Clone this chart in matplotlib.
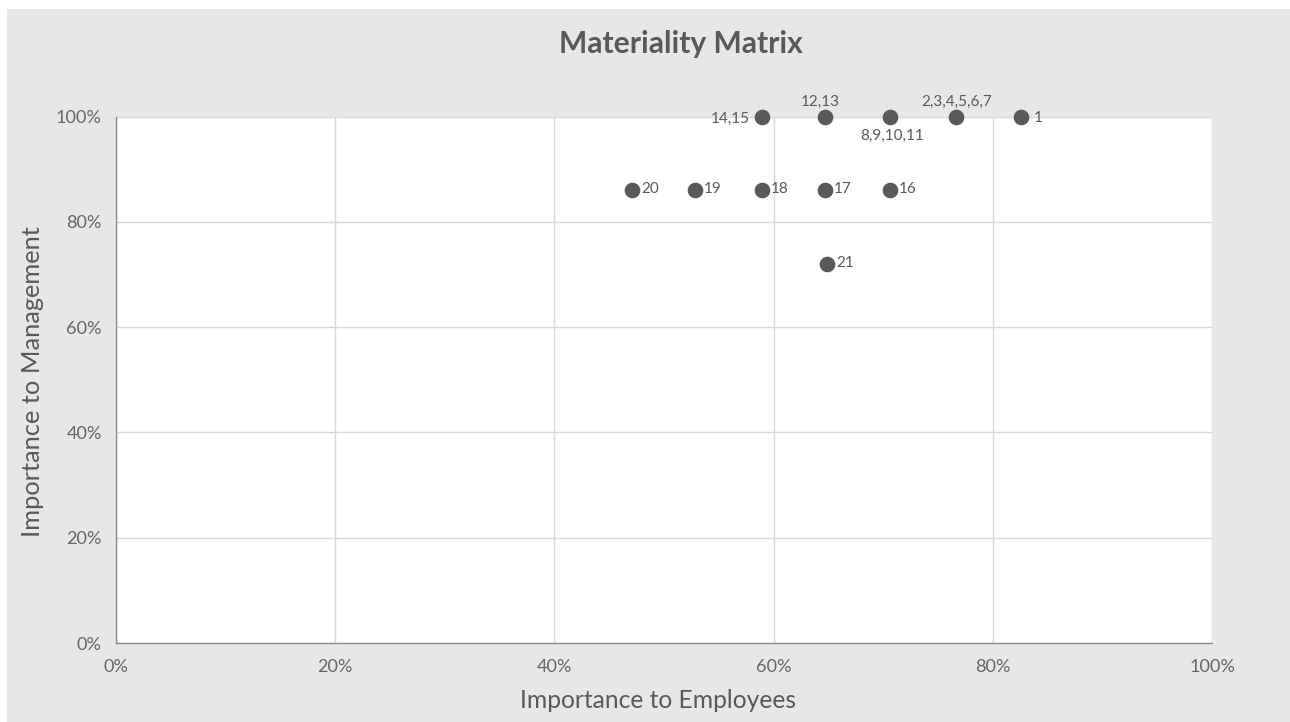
import matplotlib
matplotlib.use("Agg")
import matplotlib.pyplot as plt
from matplotlib.patches import Rectangle
from matplotlib.ticker import PercentFormatter

# Materiality matrix data (share of respondents rating the topic important)
employees = [0.826, 0.766, 0.706, 0.647, 0.589, 0.706, 0.647, 0.589, 0.528, 0.471, 0.649]
management = [1.00, 1.00, 1.00, 1.00, 1.00, 0.86, 0.86, 0.86, 0.86, 0.86, 0.72]
labels = ["1", "2,3,4,5,6,7", "8,9,10,11", "12,13", "14,15",
          "16", "17", "18", "19", "20", "21"]

# label placement (points offset, horizontal alignment), all baseline-anchored
label_offsets = [(8.6, -4.1, "left"), (0.4, 7.9, "center"), (1.8, -16.6, "center"),
                 (-3.2, 7.9, "center"), (-8.6, -4.5, "right"),
                 (6.5, -2.0, "left"), (6.5, -2.0, "left"), (6.5, -2.0, "left"),
                 (6.5, -2.0, "left"), (6.5, -2.0, "left"), (6.5, -2.0, "left")]

plt.rcParams["font.family"] = ["Lato", "DejaVu Sans"]
grey_bg = "#e6e7e9"
dark = "#595959"
W, H = 1290, 722

fig = plt.figure(figsize=(W / 100, H / 100), dpi=100, facecolor="white")
fig.patches.append(Rectangle((7 / W, 0), 1, 1 - 9 / H, transform=fig.transFigure,
                             facecolor=grey_bg, edgecolor="none", zorder=-10))

ax_l, ax_r, ax_t, ax_b = 115.7, 1212.3, 116.7, 643
ax = fig.add_axes([ax_l / W, 1 - ax_b / H, (ax_r - ax_l) / W, (ax_b - ax_t) / H])
ax.set_facecolor("white")
renderer = fig.canvas.get_renderer()


def fit(txt, px, vertical=False):
    # scale the font so the text runs px pixels long
    bb = txt.get_window_extent(renderer)
    size = bb.height if vertical else bb.width
    txt.set_fontsize(txt.get_fontsize() * px / size)


ax.scatter(employees, management, s=105, color=dark, zorder=5, clip_on=False)

probe = fig.text(0, 0, "8,9,10,11", fontsize=12)
fit(probe, 63)
lab_size = probe.get_fontsize()
probe.remove()
for x, y, lab, (dx, dy, ha) in zip(employees, management, labels, label_offsets):
    ax.annotate(lab, (x, y), xytext=(dx, dy), textcoords="offset points",
                ha=ha, va="baseline", fontsize=lab_size, color=dark, zorder=6)

ax.set_xlim(0, 1)
ax.set_ylim(0, 1)
ax.set_xticks([0, 0.2, 0.4, 0.6, 0.8, 1.0])
ax.set_yticks([0, 0.2, 0.4, 0.6, 0.8, 1.0])
ax.xaxis.set_major_formatter(PercentFormatter(1.0, decimals=0))
ax.yaxis.set_major_formatter(PercentFormatter(1.0, decimals=0))
ax.grid(True, color="#d9d9d9", linewidth=1)
ax.set_axisbelow(True)

probe = fig.text(0, 0, "100%", fontsize=12)
fit(probe, 46)
tick_size = probe.get_fontsize()
probe.remove()
ax.tick_params(length=0, labelsize=tick_size, colors="#666666")
ax.tick_params(axis="x", pad=11.5)
ax.tick_params(axis="y", pad=10)

for side in ["top", "right"]:
    ax.spines[side].set_visible(False)
for side in ["left", "bottom"]:
    ax.spines[side].set_color("#8c8c8c")
    ax.spines[side].set_linewidth(1)

xl = ax.set_xlabel("Importance to Employees", fontsize=16, color=dark)
fit(xl, 277)
xl.set_ha("left")
xl.set_va("baseline")
ax.xaxis.set_label_coords((520 - ax_l) / (ax_r - ax_l), (ax_b - 708) / (ax_b - ax_t))

yl = ax.set_ylabel("Importance to Management", fontsize=16, color=dark)
fit(yl, 312, vertical=True)
yl.set_rotation_mode("anchor")
yl.set_ha("left")
yl.set_va("baseline")
ax.yaxis.set_label_coords((40.5 - ax_l) / (ax_r - ax_l), (ax_b - 537) / (ax_b - ax_t))

title = fig.text(559 / W, 1 - 53 / H, "Materiality Matrix", ha="left", va="baseline",
                 fontsize=18, fontweight="bold", color=dark)
fit(title, 244)

fig.savefig("out.png", dpi=100, facecolor=fig.get_facecolor())
